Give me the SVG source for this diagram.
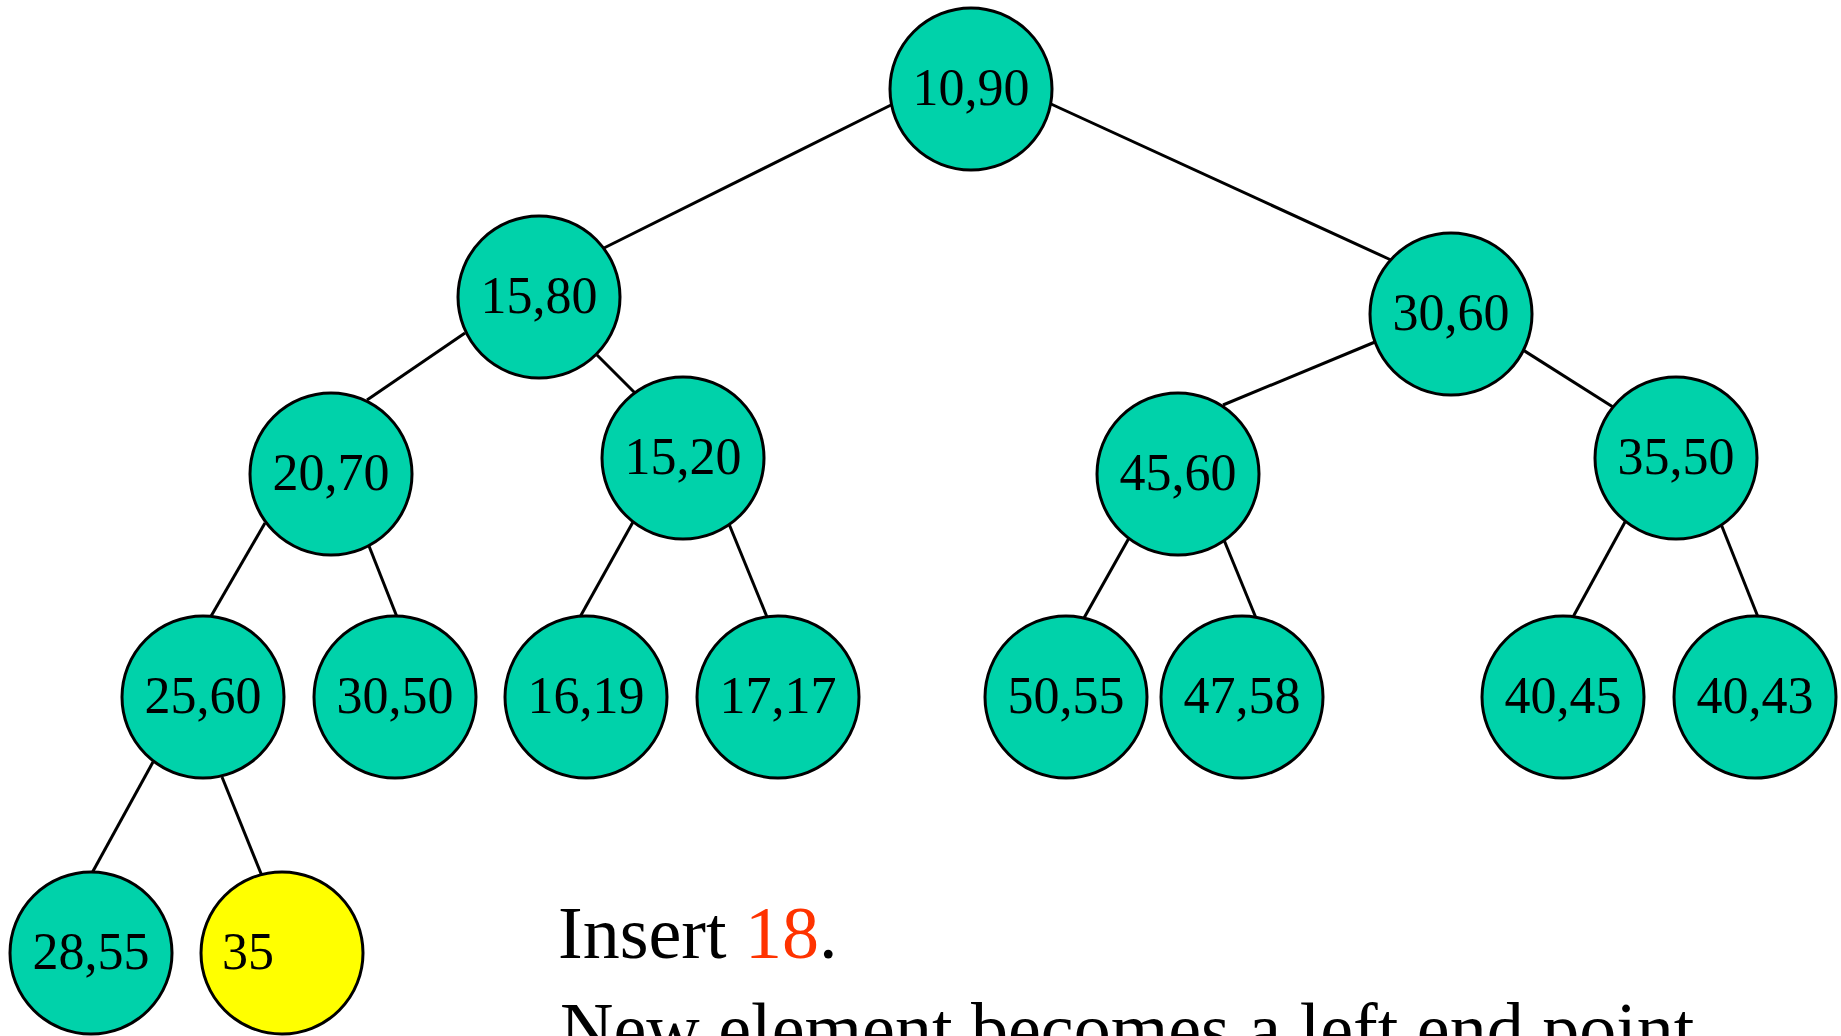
<svg xmlns="http://www.w3.org/2000/svg" width="1841" height="1036" viewBox="0 0 1841 1036">
  <style>
    .node circle { fill: #00D2AA; stroke: #000; stroke-width: 3; }
    .node.new circle { fill: #FFFF00; }
    .node text { font-family: "Liberation Serif", "Times New Roman", serif; font-size: 52px; fill: #000; text-anchor: middle; }
    .node.new text { text-anchor: start; }
    .edges line { stroke: #000; stroke-width: 3; }
    .caption { font-family: "Liberation Serif", "Times New Roman", serif; font-size: 74px; fill: #000; }
    .hl { fill: #FF3300; }
  </style>
  <rect width="1841" height="1036" fill="#fff"/>

  <!-- tree edges -->
  <g class="edges">
    <line x1="891" y1="105" x2="602" y2="249"/>
    <line x1="1051" y1="104" x2="1391" y2="260"/>
    <line x1="465" y1="333" x2="367" y2="400"/>
    <line x1="597" y1="355" x2="635" y2="393"/>
    <line x1="1375" y1="342" x2="1223" y2="405"/>
    <line x1="1523" y1="350" x2="1613" y2="407"/>
    <line x1="265" y1="523" x2="210" y2="618"/>
    <line x1="369" y1="546" x2="397" y2="617"/>
    <line x1="633" y1="522" x2="580" y2="617"/>
    <line x1="729" y1="524" x2="767" y2="617"/>
    <line x1="1129" y1="538" x2="1084" y2="618"/>
    <line x1="1224" y1="540" x2="1256" y2="618"/>
    <line x1="1625" y1="522" x2="1573" y2="617"/>
    <line x1="1721" y1="524" x2="1758" y2="617"/>
    <line x1="153" y1="762" x2="92" y2="873"/>
    <line x1="222" y1="777" x2="262" y2="876"/>
  </g>

  <!-- nodes -->
  <g id="n-10-90" class="node"><circle cx="971" cy="89" r="81"/><text x="971" y="105">10,90</text></g>
  <g id="n-15-80" class="node"><circle cx="539" cy="297" r="81"/><text x="539" y="313">15,80</text></g>
  <g id="n-30-60" class="node"><circle cx="1451" cy="314" r="81"/><text x="1451" y="330">30,60</text></g>
  <g id="n-20-70" class="node"><circle cx="331" cy="474" r="81"/><text x="331" y="490">20,70</text></g>
  <g id="n-15-20" class="node"><circle cx="683" cy="458" r="81"/><text x="683" y="474">15,20</text></g>
  <g id="n-45-60" class="node"><circle cx="1178" cy="474" r="81"/><text x="1178" y="490">45,60</text></g>
  <g id="n-35-50" class="node"><circle cx="1676" cy="458" r="81"/><text x="1676" y="474">35,50</text></g>
  <g id="n-25-60" class="node"><circle cx="203" cy="697" r="81"/><text x="203" y="713">25,60</text></g>
  <g id="n-30-50" class="node"><circle cx="395" cy="697" r="81"/><text x="395" y="713">30,50</text></g>
  <g id="n-16-19" class="node"><circle cx="586" cy="697" r="81"/><text x="586" y="713">16,19</text></g>
  <g id="n-17-17" class="node"><circle cx="778" cy="697" r="81"/><text x="778" y="713">17,17</text></g>
  <g id="n-50-55" class="node"><circle cx="1066" cy="697" r="81"/><text x="1066" y="713">50,55</text></g>
  <g id="n-47-58" class="node"><circle cx="1242" cy="697" r="81"/><text x="1242" y="713">47,58</text></g>
  <g id="n-40-45" class="node"><circle cx="1563" cy="697" r="81"/><text x="1563" y="713">40,45</text></g>
  <g id="n-40-43" class="node"><circle cx="1755" cy="697" r="81"/><text x="1755" y="713">40,43</text></g>
  <g id="n-28-55" class="node"><circle cx="91" cy="953" r="81"/><text x="91" y="969">28,55</text></g>
  <g id="n-35" class="node new"><circle cx="282" cy="953" r="81"/><text x="222" y="969">35</text></g>

  <!-- caption -->
  <text class="caption" x="558" y="958">Insert <tspan class="hl">18</tspan>.</text>
  <text class="caption" x="560" y="1054">New element becomes a left end point</text>
</svg>
